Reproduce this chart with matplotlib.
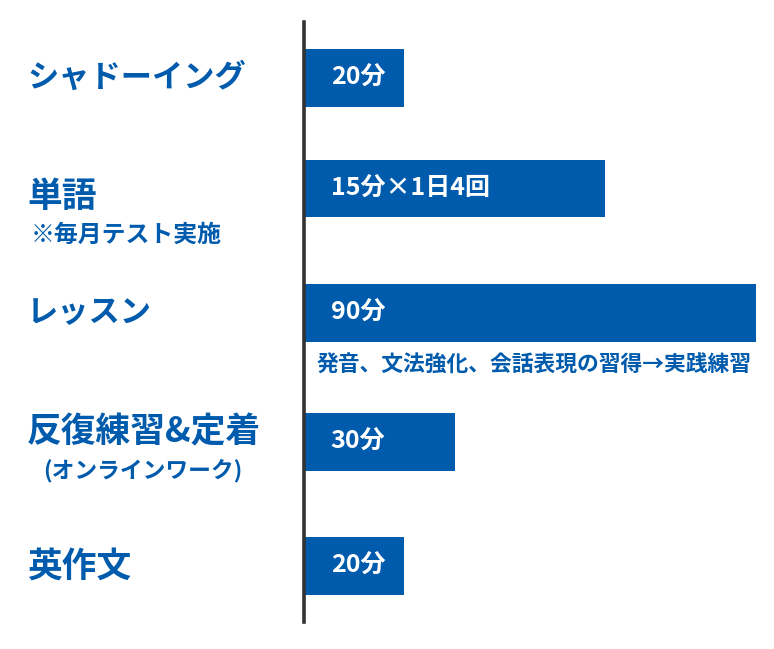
import matplotlib
matplotlib.use("Agg")
import matplotlib.pyplot as plt
import matplotlib.transforms as mtransforms

plt.rcParams['font.family'] = ['Noto Sans CJK JP', 'DejaVu Sans']

# data
activities = ["シャドーイング", "単語", "レッスン", "反復練習&定着", "英作文"]
sub_notes = ["", "※毎月テスト実施", "", "(オンラインワーク)", ""]
minutes = [20, 60, 90, 30, 20]
bar_texts = ["20分", "15分×1日4回", "90分", "30分", "20分"]
lesson_note = "発音、文法強化、会話表現の習得→実践練習"

# layout (row units, top to bottom)
row_pos = [0, 0.886, 1.88, 2.914, 3.906]
main_dy = [0, 0.068, 0, -0.08, 0]
sub_dy = [0, 0.372, 0, 0.232, 0]
main_size = [22.5, 25, 22.5, 25, 25]

blue = "#005BAC"

fig = plt.figure(figsize=(7.74, 6.49), dpi=100)
ax = fig.add_axes([304 / 774, 27 / 649, 452 / 774, 600 / 649])

ax.barh(row_pos, minutes, height=0.46, color=blue, zorder=1)
ax.set_xlim(0, 90)
ax.set_ylim(4.354, -0.446)

for s in ["top", "right", "bottom"]:
    ax.spines[s].set_visible(False)
ax.spines["left"].set_color("#333333")
ax.spines["left"].set_linewidth(2.6)
ax.spines["left"].set_zorder(3)
ax.set_xticks([])
ax.set_yticks([])

# value text inside bars
for y, t in zip(row_pos, bar_texts):
    ax.text(5.3, y, t, color="white", fontsize=18, fontweight="bold",
            va="center", ha="left")

# note under the lesson bar
ax.text(2.4, row_pos[2] + 0.424, lesson_note, color=blue, fontsize=15.7,
        fontweight="bold", va="center", ha="left")

# category labels on the left
trans = mtransforms.blended_transform_factory(fig.transFigure, ax.transData)
for i, name in enumerate(activities):
    fig.text(27 / 774, row_pos[i] + main_dy[i], name, transform=trans,
             color=blue, fontsize=main_size[i], fontweight="bold", va="center", ha="left")
    if sub_notes[i]:
        if i == 3:
            fig.text(143 / 774, row_pos[i] + sub_dy[i], sub_notes[i], transform=trans,
                     color=blue, fontsize=16.4, fontweight="bold", va="center", ha="center")
        else:
            fig.text(31 / 774, row_pos[i] + sub_dy[i], sub_notes[i], transform=trans,
                     color=blue, fontsize=17.2, fontweight="bold", va="center", ha="left")

fig.savefig("out.png", dpi=100)
